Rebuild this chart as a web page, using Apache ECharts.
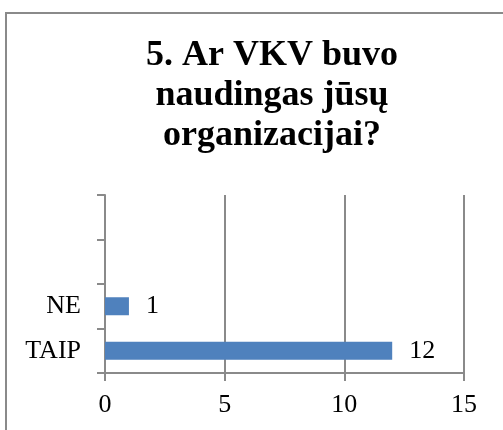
<!DOCTYPE html>
<html>
<head>
<meta charset="utf-8">
<script src="https://cdn.jsdelivr.net/npm/echarts@6/dist/echarts.min.js"></script>
<style>
  html, body { margin: 0; padding: 0; background: #fff; }
  #chart { width: 503px; height: 430px; }
</style>
</head>
<body>
<div id="chart"></div>
<script>
// chart data
const categories = ['TAIP', 'NE', '', '']
const answers = [12, 1, null, null]
const xTicks = { min: 0, max: 15, interval: 5 }
const titleText = '5. Ar VKV buvo\nnaudingas jūsų\norganizacijai?'

const serif = '"Liberation Serif", "Times New Roman", serif'
const axisGray = '#8a8a8a'

const chart = echarts.init(document.getElementById('chart'), null, { renderer: 'canvas' })

const option = {
  animation: false,
  graphic: [
    {
      // outer frame, cropped on the right and bottom like the original
      type: 'rect',
      shape: { x: 6, y: 13, width: 800, height: 800 },
      style: { fill: 'none', stroke: axisGray, lineWidth: 2 },
      silent: true
    },
    {
      type: 'text',
      x: 272,
      y: 36,
      style: {
        text: titleText,
        font: 'bold 36px ' + serif,
        fill: '#000',
        align: 'center',
        verticalAlign: 'top',
        lineHeight: 40
      }
    }
  ],
  grid: {
    left: 105,
    right: 39,
    top: 195,
    bottom: 57
  },
  xAxis: {
    type: 'value',
    min: xTicks.min,
    max: xTicks.max,
    interval: xTicks.interval,
    axisLine: { show: true, lineStyle: { color: axisGray, width: 2 } },
    axisTick: { show: true, inside: false, length: 8, lineStyle: { color: axisGray, width: 2 } },
    splitLine: { show: true, lineStyle: { color: axisGray, width: 2 } },
    axisLabel: {
      margin: 19,
      color: '#000',
      fontSize: 26,
      fontFamily: serif
    }
  },
  yAxis: {
    type: 'category',
    data: categories,
    boundaryGap: true,
    axisLine: { show: true, lineStyle: { color: axisGray, width: 2 } },
    axisTick: { show: true, inside: false, length: 8, alignWithLabel: false, lineStyle: { color: axisGray, width: 2 } },
    splitLine: { show: false },
    axisLabel: {
      margin: 24,
      color: '#000',
      fontSize: 26,
      fontFamily: serif
    }
  },
  series: [
    {
      type: 'bar',
      data: answers,
      barWidth: 18,
      itemStyle: { color: '#4F81BD' },
      label: {
        show: true,
        position: 'right',
        distance: 17,
        color: '#000',
        fontSize: 26,
        fontFamily: serif
      }
    }
  ]
}

chart.setOption(option)
</script>
</body>
</html>
